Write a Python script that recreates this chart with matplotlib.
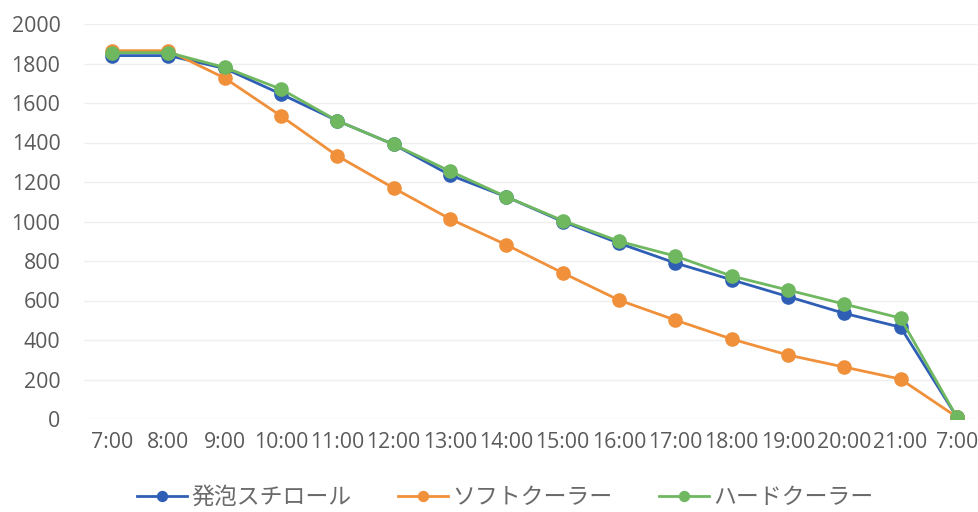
import matplotlib
matplotlib.use("Agg")
import matplotlib.pyplot as plt

plt.rcParams['font.family'] = ['Noto Sans CJK JP', 'DejaVu Sans']

times = ["7:00", "8:00", "9:00", "10:00", "11:00", "12:00", "13:00", "14:00",
         "15:00", "16:00", "17:00", "18:00", "19:00", "20:00", "21:00", "7:00"]
styrofoam = [1840, 1840, 1775, 1645, 1510, 1390, 1235, 1125,
             1000, 890, 790, 705, 620, 535, 465, 10]
soft_cooler = [1865, 1865, 1726, 1534, 1332, 1169, 1013, 882,
               740, 602, 501, 405, 324, 263, 202, 10]
hard_cooler = [1855, 1855, 1780, 1670, 1510, 1390, 1255, 1125,
               1005, 900, 825, 724, 653, 582, 511, 10]

series = [
    ("発泡スチロール", styrofoam, "#2F5FB5"),
    ("ソフトクーラー", soft_cooler, "#F0903A"),
    ("ハードクーラー", hard_cooler, "#6FB860"),
]

fig = plt.figure(figsize=(9.79, 5.12), dpi=100)
ax = fig.add_axes([84 / 979, 93 / 512, 901 / 979, 395 / 512])

x = list(range(len(times)))
for name, vals, color in series:
    ax.plot(x, vals, color=color, lw=2.0, marker="o", markersize=9.5,
            markeredgecolor=color, label=name, zorder=3)

ax.set_xlim(-0.5, len(times) - 0.5)
ax.set_ylim(0, 2000)
ax.set_yticks(range(0, 2001, 200))
ax.set_xticks(x)
ax.set_xticklabels(times)
ax.grid(axis="y", color="#EFEFEF", lw=1)
ax.set_axisbelow(True)
for s in ax.spines.values():
    s.set_visible(False)
ax.tick_params(axis="both", length=0, labelsize=15.3, labelcolor="#5A5A5A")
ax.tick_params(axis="y", pad=17)
ax.tick_params(axis="x", pad=9)
for lbl in ax.get_xticklabels() + ax.get_yticklabels():
    lbl.set_family(["Open Sans", "DejaVu Sans"])

fig.legend(loc="center", bbox_to_anchor=(0.516, 0.028), ncol=3, frameon=False,
           fontsize=16.5, labelcolor="#6A6A6A", handlelength=2.2, markerscale=0.75,
           handletextpad=0.2, columnspacing=2.0)

fig.savefig("out.png", dpi=100, facecolor="white")
